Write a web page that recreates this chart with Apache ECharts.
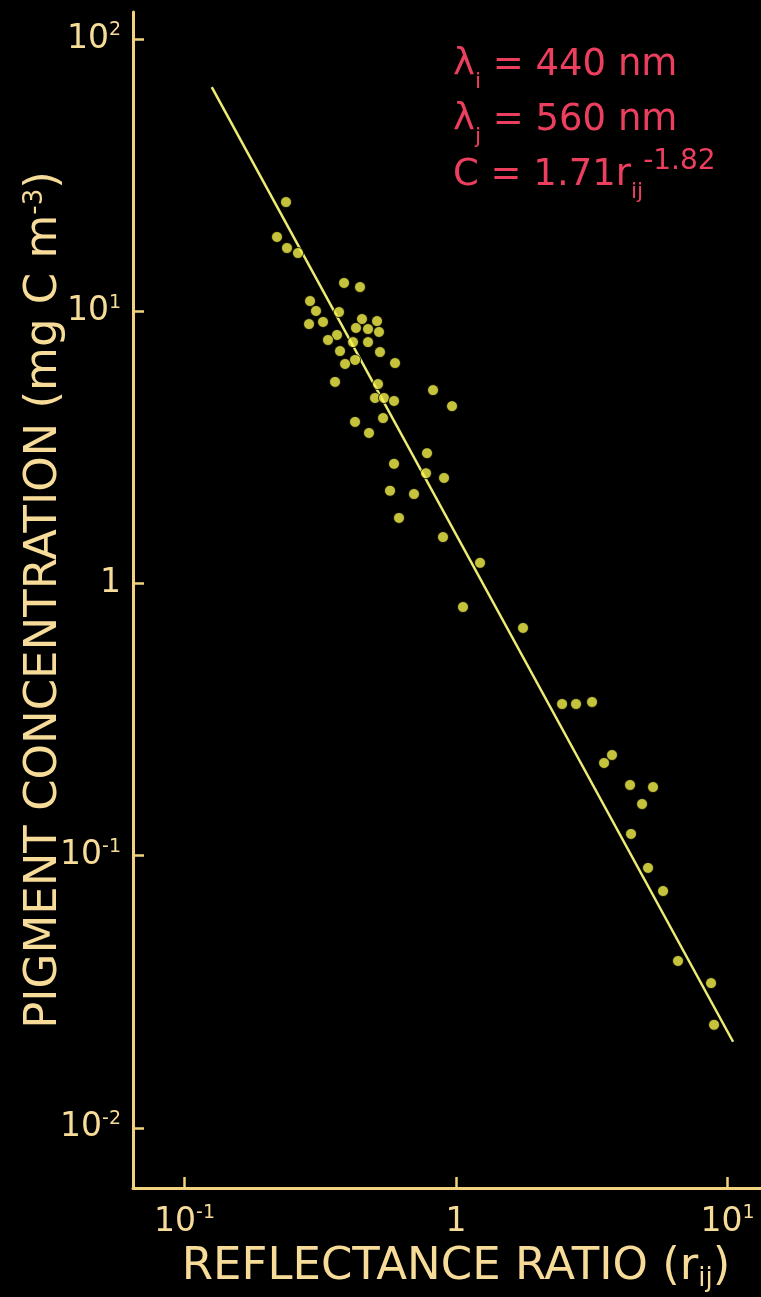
<!DOCTYPE html>
<html>
<head>
<meta charset="utf-8">
<script src="https://cdn.jsdelivr.net/npm/echarts@6/dist/echarts.min.js"></script>
<style>
html,body{margin:0;padding:0;background:#000;}
#chart{width:761px;height:1297px;}
</style>
</head>
<body>
<div id="chart"></div>
<script>
// Reflectance ratio r_ij (x) and pigment concentration C (y)
const ratio = [0.2365,0.2191,0.2385,0.2618,0.3869,0.4430,0.2900,0.3050,0.3708,0.2875,
  0.3237,0.4505,0.5117,0.3645,0.3377,0.4281,0.4741,0.5204,0.4174,0.4741,
  0.3739,0.5248,0.4246,0.3902,0.5962,0.3584,0.5161,0.5031,0.5429,0.5911,
  0.8229,0.9666,0.4246,0.5386,0.4781,0.7819,0.5911,0.7753,0.9033,0.5714,
  0.7002,0.6166,0.8956,1.226,1.061,1.765,2.458,2.767,3.169,3.509,
  3.754,4.374,5.316,4.843,4.411,5.095,5.788,6.570,8.695,8.918];
const pigment = [25.18,18.74,17.07,16.36,12.70,12.27,10.90,10.02,9.93,8.97,
  9.13,9.36,9.20,8.18,7.84,8.68,8.60,8.39,7.70,7.70,
  7.14,7.08,6.62,6.40,6.45,5.50,5.40,4.80,4.80,4.68,
  5.13,4.48,3.92,4.05,3.57,3.01,2.75,2.54,2.44,2.19,
  2.13,1.74,1.48,1.19,0.819,0.686,0.3605,0.3605,0.3667,0.2189,
  0.2342,0.1817,0.1786,0.1547,0.1201,0.0901,0.0741,0.0410,0.0340,0.0239];
// Regression line end points (C = 1.71 r^-1.82)
const fitRatio = [0.126, 10.48];
const fitPigment = [66.6, 0.0207];
// Axis decades shown as ticks (exponents of 10)
const xTickExponents = [-1, 0, 1];
const yTickExponents = [-2, -1, 0, 1, 2];
// Visible axis ranges
const xRange = [0.06461, 13.28];
const yRange = [0.006008, 125.7];

const L = Math.log10;
const axisColor = '#f2d27f';
const labelColor = '#f6dc98';
const red = '#ec3f5e';
const font = 'DejaVu Sans';

function tickLabel(v) {
  const e = Math.round(v);
  return e === 0 ? '{b|1}' : '{b|10}{s|' + e + '}';
}
const tickRich = {
  b: {fontSize: 33, fontFamily: font, color: labelColor, lineHeight: 36},
  s: {fontSize: 19, fontFamily: font, color: labelColor, lineHeight: 22, verticalAlign: 'top'}
};

const scatterData = ratio.map((r, i) => [L(r), L(pigment[i])]);
const fitData = fitRatio.map((r, i) => [L(r), L(fitPigment[i])]);

const chart = echarts.init(document.getElementById('chart'));
chart.setOption({
  backgroundColor: '#000',
  animation: false,
  title: {
    left: 453, top: 38, padding: 0,
    text: '{a|λ}{s|i}{a| = 440 nm}\n{a|λ}{s|j}{a| = 560 nm}\n{a|C = 1.71r}{s|ij}{p|-1.82}',
    textStyle: {
      fontWeight: 'normal',
      rich: {
        a: {fontSize: 37, fontFamily: font, fontWeight: 'normal', color: red, lineHeight: 55},
        s: {fontSize: 22, fontFamily: font, fontWeight: 'normal', color: red, lineHeight: 30, verticalAlign: 'bottom'},
        p: {fontSize: 28, fontFamily: font, fontWeight: 'normal', color: red, lineHeight: 50, verticalAlign: 'top'}
      }
    }
  },
  grid: {left: 133, right: 0, top: 12, bottom: 109, containLabel: false},
  xAxis: {
    type: 'value',
    min: L(xRange[0]), max: L(xRange[1]),
    name: 'REFLECTANCE RATIO {n|(r}{sub|ij}{n|)}',
    nameLocation: 'middle',
    nameGap: 54,
    nameMoveOverlap: false,
    nameTextStyle: {
      fontSize: 45, fontFamily: font, color: labelColor, padding: [0, 0, 0, 18],
      rich: {
        n: {fontSize: 45, fontFamily: font, color: labelColor, lineHeight: 50},
        sub: {fontSize: 26, fontFamily: font, color: labelColor, lineHeight: 30, verticalAlign: 'bottom'}
      }
    },
    axisLine: {onZero: false, lineStyle: {color: axisColor, width: 3}},
    axisTick: {inside: true, length: 11, lineStyle: {color: axisColor, width: 2.5}, customValues: xTickExponents},
    axisLabel: {margin: 16, customValues: xTickExponents, formatter: tickLabel, rich: tickRich},
    splitLine: {show: false}
  },
  yAxis: {
    type: 'value',
    min: L(yRange[0]), max: L(yRange[1]),
    name: 'PIGMENT CONCENTRATION (mg C m{sup|-3})',
    nameLocation: 'middle',
    nameGap: 66,
    nameMoveOverlap: false,
    nameRotate: 90,
    nameTextStyle: {
      fontSize: 45, fontFamily: font, color: labelColor,
      rich: {
        sup: {fontSize: 26, fontFamily: font, color: labelColor, lineHeight: 30, verticalAlign: 'top'}
      }
    },
    axisLine: {onZero: false, lineStyle: {color: axisColor, width: 3}},
    axisTick: {inside: true, length: 11, lineStyle: {color: axisColor, width: 2.5}, customValues: yTickExponents},
    axisLabel: {margin: 12, customValues: yTickExponents, formatter: tickLabel, rich: tickRich},
    splitLine: {show: false}
  },
  series: [
    {
      type: 'line',
      data: fitData,
      showSymbol: false,
      z: 2,
      lineStyle: {color: '#ecec74', width: 2.5}
    },
    {
      type: 'scatter',
      data: scatterData,
      symbol: 'circle',
      symbolSize: 11,
      z: 3,
      itemStyle: {
        color: '#f6f24a',
        borderColor: '#000',
        borderWidth: 1
      }
    }
  ]
});
</script>
</body>
</html>
